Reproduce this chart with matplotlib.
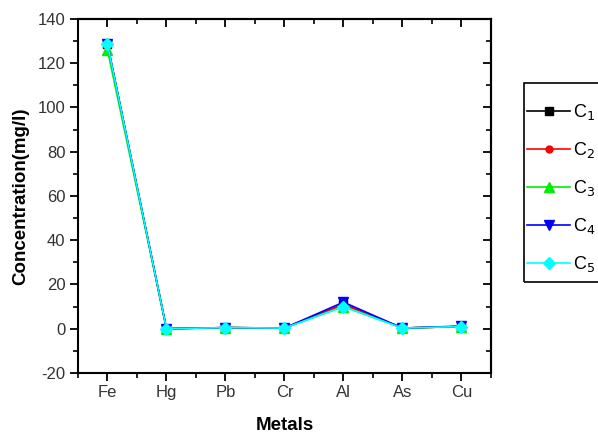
import numpy as np
import matplotlib.pyplot as plt
from matplotlib.ticker import MultipleLocator
from matplotlib.patches import Rectangle

plt.rcParams['font.family'] = ['Liberation Sans', 'DejaVu Sans']
plt.rcParams['axes.unicode_minus'] = False

metals = ['Fe', 'Hg', 'Pb', 'Cr', 'Al', 'As', 'Cu']
c1 = [128.5, 0.0, 0.5, 0.3, 11.0, 0.3, 1.0]
c2 = [128.3, 0.0, 0.5, 0.3, 11.0, 0.3, 1.0]
c3 = [126.0, 0.0, 0.5, 0.3, 10.0, 0.3, 1.0]
c4 = [128.8, 0.0, 0.5, 0.3, 12.0, 0.3, 1.2]
c5 = [128.6, 0.0, 0.5, 0.3, 10.0, 0.3, 1.0]

series = [c1, c2, c3, c4, c5]
labels = ['C$_1$', 'C$_2$', 'C$_3$', 'C$_4$', 'C$_5$']
colors = ['black', 'red', '#00ee00', 'blue', 'cyan']
markers = ['s', 'o', '^', 'v', 'D']
msizes = [6, 5, 7, 7, 6]

fig = plt.figure(figsize=(5.98, 4.37), dpi=100)
ax = fig.add_axes([0.1304, 0.1465, 0.6906, 0.8101])

x = np.arange(len(metals))
for s, lab, col, mk, ms in zip(series, labels, colors, markers, msizes):
    ax.plot(x, s, color=col, marker=mk, markersize=ms, linewidth=1.2, label=lab)

ax.set_xlim(-0.5, 6.5)
ax.set_ylim(-20, 140)
ax.set_xticks(x)
ax.set_xticklabels(metals)
ax.xaxis.set_minor_locator(MultipleLocator(0.5))
ax.yaxis.set_major_locator(MultipleLocator(20))
ax.yaxis.set_minor_locator(MultipleLocator(10))

ax.tick_params(axis='both', which='major', labelsize=12, width=1.3, length=5.5,
               direction='out', colors='black', labelcolor='#333333')
ax.tick_params(axis='both', which='minor', width=1.2, length=3.5, direction='out')
for sp in ax.spines.values():
    sp.set_linewidth(1.5)

# mirrored ticks on top and right, pointing inward
axt = ax.secondary_xaxis('top')
axt.set_xticks(x)
axt.xaxis.set_minor_locator(MultipleLocator(0.5))
axt.tick_params(which='major', direction='in', length=5.5, width=1.3, labeltop=False)
axt.tick_params(which='minor', direction='in', length=3.5, width=1.2)
axt.spines['top'].set_linewidth(1.5)
axr = ax.secondary_yaxis('right')
axr.yaxis.set_major_locator(MultipleLocator(20))
axr.yaxis.set_minor_locator(MultipleLocator(10))
axr.tick_params(which='major', direction='in', length=5.5, width=1.3, labelright=False)
axr.tick_params(which='minor', direction='in', length=3.5, width=1.2)
axr.spines['right'].set_linewidth(1.5)

ax.set_xlabel('Metals', fontsize=13.5, fontweight='bold', labelpad=12)
ax.set_ylabel('Concentration(mg/l)', fontsize=13.5, fontweight='bold', labelpad=6)

# legend box runs past the right edge of the figure, as in the original
leg = fig.legend(loc='upper left', bbox_to_anchor=(0.881, 0.766), fontsize=13,
                 frameon=False, handlelength=2.4, handletextpad=0.15,
                 labelspacing=1.0, borderpad=0, borderaxespad=0)
fig.patches.append(Rectangle((524 / 598, 1 - 282 / 437), 0.3, 199 / 437,
                             transform=fig.transFigure, fill=False,
                             edgecolor='black', linewidth=1.2))

fig.savefig('out.png', dpi=100)
